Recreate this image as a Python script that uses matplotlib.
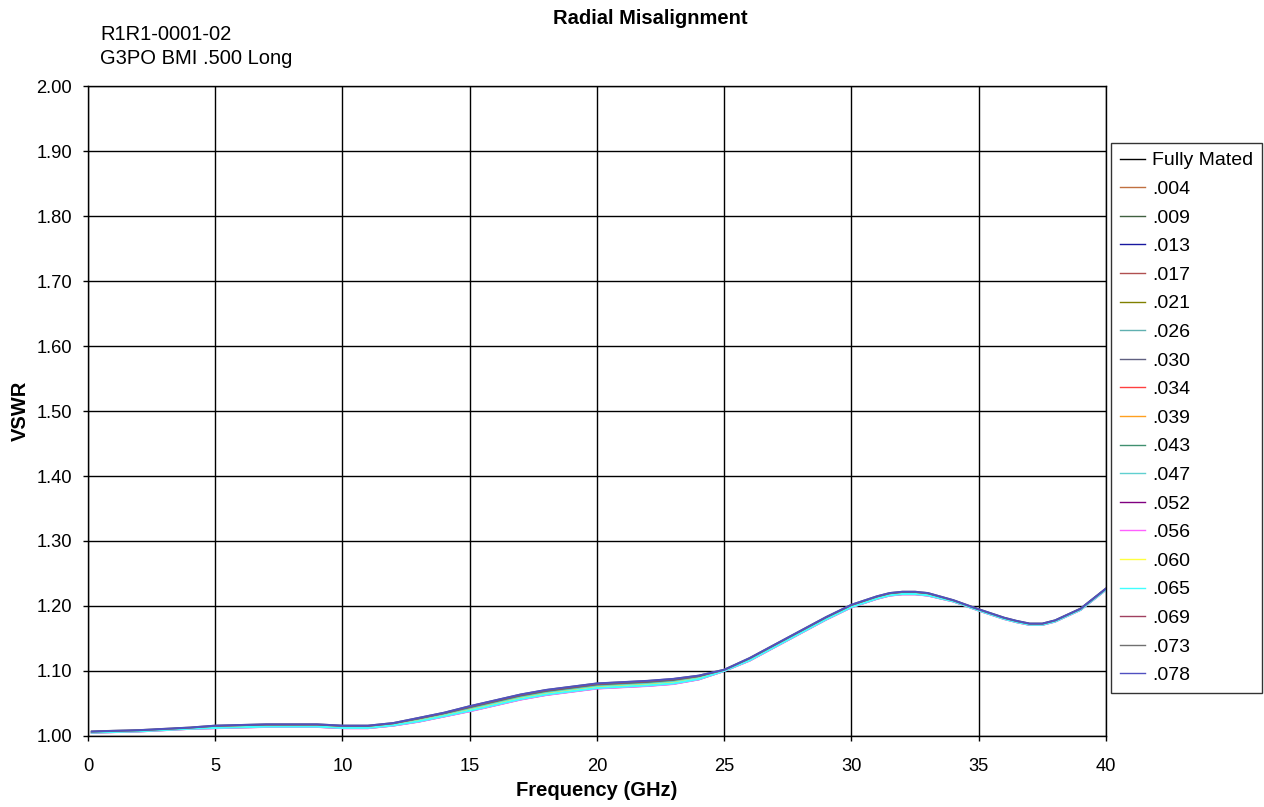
import numpy as np
import matplotlib.pyplot as plt

plt.rcParams['font.family'] = ['Liberation Sans', 'DejaVu Sans']

# Frequency points (GHz)
freq = [0.15, 1, 2, 3, 4, 5, 6, 7, 8, 9, 10, 11, 12, 13, 14, 15, 16, 17, 18, 19, 20,
        21, 22, 23, 24, 25, 26, 27, 28, 29, 30, 31, 31.5, 32, 32.5, 33, 34, 35, 36,
        36.5, 37, 37.5, 38, 39, 40]

# VSWR of the bundle centre
vswr_mid = [1.006, 1.007, 1.008, 1.010, 1.012, 1.014, 1.015, 1.016, 1.016, 1.016,
            1.014, 1.014, 1.018, 1.025, 1.033, 1.042, 1.051, 1.060, 1.067, 1.072,
            1.077, 1.079, 1.081, 1.084, 1.090, 1.101, 1.118, 1.139, 1.160, 1.181,
            1.200, 1.213, 1.218, 1.220, 1.220, 1.218, 1.208, 1.194, 1.181,
            1.176, 1.172, 1.172, 1.177, 1.195, 1.226]

# half-width of the bundle of curves at each frequency
vswr_spread = [0.001, 0.001, 0.001, 0.001, 0.001, 0.002, 0.002, 0.002, 0.002, 0.002,
               0.002, 0.002, 0.002, 0.003, 0.003, 0.004, 0.004, 0.004, 0.004, 0.004,
               0.004, 0.004, 0.004, 0.004, 0.003, 0.001, 0.002, 0.002, 0.002, 0.002,
               0.002, 0.002, 0.002, 0.002, 0.002, 0.002, 0.001, 0.001, 0.001,
               0.001, 0.001, 0.001, 0.001, 0.001, 0.001]

labels = ['Fully Mated', '.004', '.009', '.013', '.017', '.021', '.026', '.030', '.034',
          '.039', '.043', '.047', '.052', '.056', '.060', '.065', '.069', '.073', '.078']

# where each curve sits inside the bundle (-1 low, +1 high)
position = [0.0, -0.3, 0.5, 0.3, -0.9, -0.2, 0.1, 0.4, -0.6,
            -0.4, 0.2, -0.1, -0.7, -1.0, -0.5, -0.8, 0.6, 0.9, 1.0]

colors = ['#000000', '#c07040', '#406040', '#1818a0', '#b05050', '#808000', '#60b0b0',
          '#606080', '#ff4040', '#ffa020', '#409070', '#60d0d0', '#800080', '#ff60ff',
          '#ffff40', '#40ffff', '#a04060', '#707070', '#5050c0']
widths = [1, 1, 1, 1, 1.5, 1, 1.5, 1, 1, 1, 1, 1, 1, 1.5, 1, 1.5, 1, 1.5, 1.3]

fig = plt.figure(figsize=(12.64, 8.07), dpi=100)
ax = fig.add_axes([0.0696, 0.0880, 0.8054, 0.8054])

mid = np.array(vswr_mid)
spr = np.array(vswr_spread)
for lab, p, c, w in zip(labels, position, colors, widths):
    ax.plot(freq, mid + p * spr, color=c, linewidth=w, label=lab)

ax.set_xlim(0, 40)
ax.set_ylim(1.0, 2.0)
ax.set_xticks(np.arange(0, 41, 5))
ax.set_yticks(np.arange(1.0, 2.001, 0.1))
ax.set_yticklabels([f'{v:.2f}' for v in np.arange(1.0, 2.001, 0.1)])
ax.grid(True, color='black', linewidth=1)
ax.set_axisbelow(True)
ax.tick_params(labelsize=13.2, direction='out', length=3.5, width=1, colors='black')
ax.tick_params(axis='x', pad=12)
ax.tick_params(axis='y', pad=8)
for s in ax.spines.values():
    s.set_color('black')
    s.set_linewidth(1)

fig.text(597 / 1264, 1 - 791 / 807, 'Frequency (GHz)', ha='center', va='center',
         fontsize=14.5, fontweight='bold')
fig.text(20 / 1264, 1 - 411 / 807, 'VSWR', ha='center', va='center', rotation=90,
         fontsize=14.5, fontweight='bold')

fig.text(650 / 1264, 1 - 18 / 807, 'Radial Misalignment', ha='center', va='center',
         fontsize=14.5, fontweight='bold')
fig.text(100 / 1264, 1 - 34 / 807, 'R1R1-0001-02', ha='left', va='center', fontsize=14.5)
fig.text(100 / 1264, 1 - 58 / 807, 'G3PO BMI .500 Long', ha='left', va='center', fontsize=14.5)

leg = fig.legend(loc='upper left', bbox_to_anchor=(1111 / 1264, 1 - 143 / 807),
                 fontsize=14, frameon=True, fancybox=False, edgecolor='black',
                 handlelength=1.3, handletextpad=0.36, labelspacing=0.565,
                 borderpad=0.45, borderaxespad=0)
leg.get_frame().set_linewidth(1)
for line in leg.get_lines():
    line.set_linewidth(1)

fig.savefig('out.png', dpi=100)
